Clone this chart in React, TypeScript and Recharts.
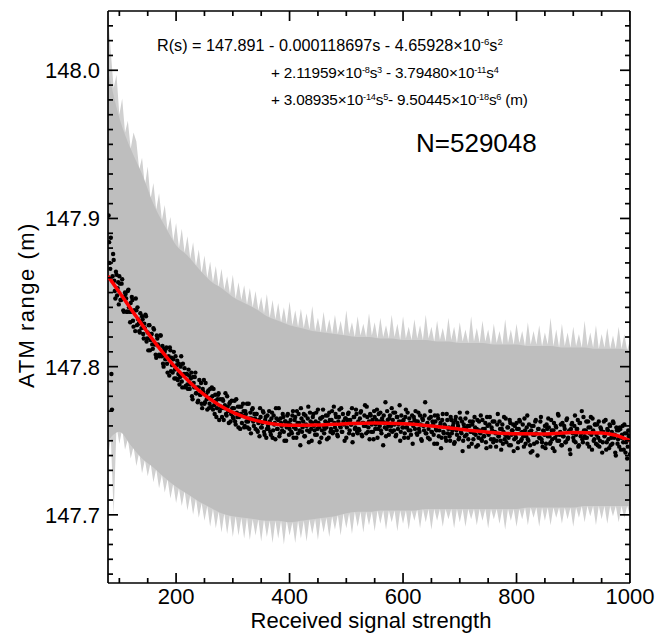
import React from "react";
import { Area, ComposedChart, Line, Scatter, XAxis, YAxis } from "recharts";

const FONT = '"Liberation Sans", Arial, Helvetica, sans-serif';
const GRAY = "#bebebe";
const GRAY_EDGE = "#d0d0d0";
const RED = "#ff0000";

// Spread band per signal-strength bin (needle tips): s = 80, 85, ..., 1000
const BAND_START = 80;
const BAND_STEP = 5;
const BAND_HIGH = [
  148.038, 148.012, 147.988, 147.997, 147.970, 147.981, 147.958, 147.966, 147.947, 147.958,
  147.952, 147.933, 147.941, 147.922, 147.935, 147.913, 147.924, 147.906, 147.917, 147.899,
  147.909, 147.892, 147.901, 147.885, 147.897, 147.880, 147.893, 147.877, 147.888, 147.873,
  147.884, 147.868, 147.879, 147.863, 147.875, 147.860, 147.871, 147.857, 147.868, 147.854,
  147.866, 147.852, 147.861, 147.849, 147.862, 147.846, 147.857, 147.845, 147.855, 147.842,
  147.853, 147.840, 147.851, 147.838, 147.847, 147.836, 147.849, 147.833, 147.845, 147.832,
  147.843, 147.830, 147.840, 147.829, 147.844, 147.828, 147.838, 147.827, 147.839, 147.826,
  147.836, 147.825, 147.841, 147.824, 147.833, 147.823, 147.837, 147.823, 147.832, 147.822,
  147.835, 147.822, 147.831, 147.821, 147.838, 147.822, 147.830, 147.820, 147.834, 147.821,
  147.829, 147.820, 147.836, 147.821, 147.830, 147.819, 147.833, 147.820, 147.828, 147.819,
  147.835, 147.820, 147.829, 147.818, 147.834, 147.819, 147.827, 147.818, 147.832, 147.819,
  147.828, 147.818, 147.835, 147.819, 147.827, 147.817, 147.831, 147.818, 147.826, 147.817,
  147.833, 147.818, 147.827, 147.816, 147.830, 147.817, 147.825, 147.816, 147.834, 147.817,
  147.826, 147.816, 147.831, 147.817, 147.825, 147.815, 147.829, 147.816, 147.824, 147.815,
  147.832, 147.816, 147.825, 147.815, 147.829, 147.816, 147.824, 147.814, 147.830, 147.815,
  147.824, 147.815, 147.828, 147.814, 147.823, 147.815, 147.833, 147.814, 147.825, 147.813,
  147.829, 147.814, 147.823, 147.813, 147.827, 147.814, 147.822, 147.813, 147.831, 147.814,
  147.823, 147.813, 147.828, 147.812, 147.822, 147.813, 147.826, 147.812, 147.821, 147.812,
  147.827, 147.812, 147.822, 147.811, 147.818,
];
const BAND_LOW = [
  147.738, 147.752, 147.700, 147.760, 147.748, 147.758, 147.744, 147.751, 147.738, 147.746,
  147.733, 147.742, 147.728, 147.737, 147.726, 147.735, 147.722, 147.731, 147.718, 147.727,
  147.715, 147.724, 147.711, 147.721, 147.708, 147.718, 147.706, 147.716, 147.703, 147.713,
  147.700, 147.711, 147.698, 147.708, 147.696, 147.706, 147.692, 147.704, 147.691, 147.702,
  147.688, 147.701, 147.687, 147.700, 147.685, 147.699, 147.686, 147.698, 147.684, 147.698,
  147.683, 147.697, 147.686, 147.697, 147.682, 147.697, 147.685, 147.696, 147.681, 147.696,
  147.684, 147.696, 147.680, 147.696, 147.686, 147.695, 147.681, 147.696, 147.684, 147.696,
  147.682, 147.697, 147.687, 147.697, 147.683, 147.698, 147.688, 147.698, 147.685, 147.699,
  147.690, 147.700, 147.686, 147.701, 147.691, 147.701, 147.687, 147.702, 147.692, 147.702,
  147.688, 147.702, 147.693, 147.702, 147.689, 147.703, 147.694, 147.703, 147.690, 147.703,
  147.695, 147.703, 147.689, 147.703, 147.694, 147.703, 147.690, 147.703, 147.696, 147.704,
  147.691, 147.704, 147.695, 147.704, 147.690, 147.704, 147.696, 147.704, 147.692, 147.704,
  147.697, 147.704, 147.691, 147.704, 147.695, 147.704, 147.692, 147.704, 147.697, 147.704,
  147.693, 147.704, 147.696, 147.704, 147.691, 147.704, 147.697, 147.704, 147.694, 147.704,
  147.690, 147.704, 147.696, 147.704, 147.692, 147.704, 147.697, 147.705, 147.693, 147.705,
  147.698, 147.705, 147.692, 147.705, 147.696, 147.705, 147.693, 147.705, 147.698, 147.705,
  147.694, 147.705, 147.697, 147.705, 147.692, 147.705, 147.698, 147.706, 147.695, 147.706,
  147.699, 147.706, 147.693, 147.706, 147.697, 147.706, 147.694, 147.706, 147.699, 147.706,
  147.695, 147.706, 147.698, 147.706, 147.700,
];

// Solid core of the band: s = 80, 100, ..., 1000
const CORE_START = 80;
const CORE_STEP = 20;
const CORE_HIGH = [
  148.000, 147.968, 147.947, 147.930, 147.910, 147.895, 147.882, 147.875, 147.866, 147.858,
  147.853, 147.847, 147.843, 147.839, 147.834, 147.831, 147.828, 147.826, 147.824, 147.823,
  147.822, 147.821, 147.820, 147.820, 147.819, 147.819, 147.818, 147.818, 147.818, 147.817,
  147.817, 147.816, 147.816, 147.816, 147.815, 147.815, 147.815, 147.814, 147.814, 147.814,
  147.813, 147.813, 147.813, 147.812, 147.812, 147.812, 147.811,
];
const CORE_LOW = [
  147.750, 147.756, 147.747, 147.738, 147.732, 147.725, 147.719, 147.714, 147.709, 147.705,
  147.701, 147.699, 147.698, 147.697, 147.696, 147.696, 147.695, 147.696, 147.697, 147.698,
  147.699, 147.701, 147.702, 147.702, 147.703, 147.703, 147.703, 147.703, 147.704, 147.704,
  147.704, 147.704, 147.704, 147.704, 147.704, 147.704, 147.704, 147.705, 147.705, 147.705,
  147.705, 147.705, 147.706, 147.706, 147.706, 147.706, 147.706,
];

// Mean ATM range per signal-strength bin: odd s = 81..999, even s = 82..1000
const DOT_STEP = 2;
const DOT_ODD_START = 81;
const DOT_ODD = [
  147.902, 147.870, 147.887, 147.771, 147.876, 147.858, 147.846, 147.862, 147.853, 147.842,
  147.856, 147.845, 147.859, 147.838, 147.847, 147.849, 147.837, 147.851, 147.840, 147.830,
  147.837, 147.845, 147.827, 147.838, 147.846, 147.828, 147.832, 147.824, 147.836, 147.826,
  147.832, 147.819, 147.826, 147.834, 147.819, 147.811, 147.828, 147.818, 147.822, 147.812,
  147.825, 147.815, 147.806, 147.819, 147.814, 147.807, 147.821, 147.807, 147.802, 147.812,
  147.805, 147.813, 147.796, 147.807, 147.813, 147.797, 147.801, 147.805, 147.792, 147.807,
  147.801, 147.791, 147.802, 147.793, 147.807, 147.786, 147.794, 147.799, 147.787, 147.795,
  147.785, 147.794, 147.788, 147.796, 147.778, 147.789, 147.793, 147.782, 147.786, 147.777,
  147.791, 147.781, 147.775, 147.785, 147.791, 147.776, 147.781, 147.771, 147.784, 147.775,
  147.779, 147.786, 147.771, 147.774, 147.781, 147.766, 147.778, 147.782, 147.770, 147.773,
  147.766, 147.777, 147.772, 147.782, 147.767, 147.773, 147.762, 147.776, 147.768, 147.772,
  147.765, 147.777, 147.761, 147.769, 147.773, 147.766, 147.758, 147.773, 147.767, 147.770,
  147.760, 147.768, 147.775, 147.763, 147.758, 147.769, 147.765, 147.772, 147.760, 147.765,
  147.768, 147.757, 147.762, 147.753, 147.766, 147.759, 147.770, 147.756, 147.764, 147.752,
  147.767, 147.758, 147.763, 147.754, 147.769, 147.757, 147.761, 147.751, 147.765, 147.758,
  147.772, 147.755, 147.762, 147.757, 147.766, 147.750, 147.763, 147.759, 147.768, 147.754,
  147.761, 147.756, 147.767, 147.752, 147.764, 147.758, 147.770, 147.755, 147.762, 147.747,
  147.765, 147.759, 147.768, 147.753, 147.761, 147.757, 147.773, 147.756, 147.763, 147.750,
  147.766, 147.760, 147.754, 147.769, 147.758, 147.762, 147.749, 147.765, 147.757, 147.771,
  147.755, 147.763, 147.759, 147.767, 147.752, 147.764, 147.758, 147.770, 147.756, 147.762,
  147.768, 147.757, 147.753, 147.766, 147.760, 147.772, 147.756, 147.763, 147.750, 147.765,
  147.759, 147.768, 147.755, 147.764, 147.761, 147.749, 147.766, 147.758, 147.771, 147.756,
  147.763, 147.757, 147.769, 147.754, 147.762, 147.760, 147.774, 147.755, 147.766, 147.759,
  147.751, 147.767, 147.761, 147.756, 147.770, 147.758, 147.764, 147.752, 147.768, 147.760,
  147.757, 147.765, 147.747, 147.762, 147.776, 147.758, 147.764, 147.754, 147.767, 147.760,
  147.756, 147.769, 147.761, 147.753, 147.766, 147.758, 147.763, 147.750, 147.767, 147.759,
  147.764, 147.755, 147.771, 147.759, 147.752, 147.765, 147.757, 147.762, 147.748, 147.766,
  147.758, 147.763, 147.754, 147.769, 147.756, 147.761, 147.750, 147.764, 147.757, 147.776,
  147.755, 147.762, 147.758, 147.751, 147.766, 147.756, 147.761, 147.748, 147.763, 147.757,
  147.767, 147.753, 147.760, 147.745, 147.764, 147.756, 147.761, 147.752, 147.768, 147.755,
  147.759, 147.750, 147.764, 147.757, 147.762, 147.749, 147.766, 147.754, 147.760, 147.752,
  147.765, 147.755, 147.743, 147.761, 147.753, 147.758, 147.769, 147.751, 147.760, 147.756,
  147.748, 147.763, 147.755, 147.759, 147.746, 147.764, 147.752, 147.757, 147.767, 147.750,
  147.758, 147.753, 147.762, 147.745, 147.760, 147.754, 147.766, 147.751, 147.757, 147.749,
  147.763, 147.755, 147.750, 147.768, 147.753, 147.758, 147.744, 147.761, 147.756, 147.751,
  147.765, 147.753, 147.759, 147.747, 147.762, 147.754, 147.757, 147.743, 147.760, 147.752,
  147.758, 147.749, 147.764, 147.755, 147.751, 147.761, 147.746, 147.757, 147.753, 147.767,
  147.750, 147.756, 147.742, 147.760, 147.754, 147.748, 147.763, 147.755, 147.740, 147.758,
  147.752, 147.766, 147.749, 147.757, 147.754, 147.745, 147.761, 147.753, 147.759, 147.748,
  147.764, 147.751, 147.757, 147.743, 147.760, 147.754, 147.768, 147.750, 147.756, 147.747,
  147.762, 147.753, 147.758, 147.749, 147.765, 147.752, 147.757, 147.741, 147.761, 147.755,
  147.750, 147.767, 147.754, 147.758, 147.746, 147.762, 147.753, 147.770, 147.749, 147.757,
  147.752, 147.763, 147.748, 147.759, 147.755, 147.766, 147.744, 147.757, 147.751, 147.761,
  147.754, 147.747, 147.763, 147.750, 147.758, 147.742, 147.756, 147.753, 147.764, 147.749,
  147.757, 147.745, 147.760, 147.752, 147.748, 147.762, 147.754, 147.740, 147.757, 147.751,
  147.746, 147.758, 147.752, 147.760, 147.744, 147.755, 147.749, 147.738, 147.757, 147.753,
];
const DOT_EVEN_START = 82;
const DOT_EVEN = [
  147.884, 147.866, 147.795, 147.861, 147.872, 147.851, 147.864, 147.848, 147.857, 147.861,
  147.845, 147.856, 147.846, 147.837, 147.850, 147.846, 147.837, 147.852, 147.837, 147.843,
  147.847, 147.831, 147.838, 147.824, 147.838, 147.840, 147.829, 147.823, 147.830, 147.834,
  147.822, 147.829, 147.835, 147.817, 147.823, 147.828, 147.811, 147.822, 147.815, 147.826,
  147.815, 147.808, 147.821, 147.815, 147.808, 147.821, 147.808, 147.814, 147.800, 147.810,
  147.812, 147.802, 147.806, 147.794, 147.811, 147.806, 147.796, 147.810, 147.798, 147.792,
  147.804, 147.795, 147.788, 147.800, 147.790, 147.802, 147.795, 147.786, 147.795, 147.788,
  147.798, 147.785, 147.792, 147.780, 147.793, 147.786, 147.796, 147.782, 147.776, 147.786,
  147.781, 147.789, 147.772, 147.783, 147.775, 147.789, 147.778, 147.783, 147.772, 147.785,
  147.773, 147.780, 147.785, 147.768, 147.777, 147.772, 147.781, 147.764, 147.778, 147.772,
  147.778, 147.764, 147.774, 147.768, 147.780, 147.770, 147.775, 147.763, 147.777, 147.766,
  147.772, 147.763, 147.778, 147.766, 147.759, 147.773, 147.768, 147.762, 147.775, 147.759,
  147.770, 147.763, 147.759, 147.775, 147.765, 147.755, 147.771, 147.763, 147.768, 147.758,
  147.768, 147.756, 147.764, 147.772, 147.759, 147.762, 147.769, 147.754, 147.766, 147.758,
  147.760, 147.770, 147.756, 147.765, 147.752, 147.767, 147.762, 147.772, 147.758, 147.764,
  147.753, 147.765, 147.760, 147.768, 147.756, 147.763, 147.750, 147.767, 147.762, 147.758,
  147.764, 147.755, 147.770, 147.759, 147.766, 147.752, 147.762, 147.768, 147.757, 147.772,
  147.756, 147.763, 147.753, 147.767, 147.760, 147.765, 147.749, 147.769, 147.758, 147.762,
  147.768, 147.757, 147.763, 147.754, 147.771, 147.759, 147.765, 147.752, 147.766, 147.760,
  147.758, 147.767, 147.751, 147.762, 147.769, 147.756, 147.764, 147.755, 147.773, 147.759,
  147.766, 147.754, 147.763, 147.771, 147.759, 147.756, 147.768, 147.761, 147.765, 147.752,
  147.764, 147.769, 147.757, 147.761, 147.772, 147.754, 147.766, 147.759, 147.768, 147.755,
  147.758, 147.765, 147.770, 147.753, 147.762, 147.767, 147.760, 147.773, 147.756, 147.763,
  147.768, 147.756, 147.764, 147.751, 147.766, 147.761, 147.771, 147.758, 147.763, 147.769,
  147.755, 147.763, 147.767, 147.759, 147.753, 147.770, 147.760, 147.765, 147.757, 147.772,
  147.764, 147.757, 147.769, 147.754, 147.766, 147.761, 147.774, 147.756, 147.763, 147.759,
  147.752, 147.766, 147.759, 147.769, 147.757, 147.762, 147.754, 147.767, 147.760, 147.764,
  147.770, 147.755, 147.763, 147.758, 147.767, 147.751, 147.765, 147.760, 147.767, 147.755,
  147.761, 147.752, 147.765, 147.770, 147.756, 147.763, 147.754, 147.767, 147.758, 147.748,
  147.765, 147.757, 147.762, 147.752, 147.768, 147.755, 147.760, 147.750, 147.764, 147.758,
  147.753, 147.766, 147.755, 147.760, 147.748, 147.764, 147.757, 147.762, 147.751, 147.769,
  147.756, 147.763, 147.750, 147.759, 147.765, 147.754, 147.760, 147.746, 147.763, 147.756,
  147.761, 147.751, 147.766, 147.754, 147.758, 147.747, 147.763, 147.755, 147.751, 147.764,
  147.753, 147.758, 147.749, 147.766, 147.755, 147.761, 147.746, 147.759, 147.763, 147.751,
  147.756, 147.746, 147.761, 147.753, 147.763, 147.750, 147.758, 147.748, 147.766, 147.754,
  147.749, 147.759, 147.752, 147.764, 147.747, 147.757, 147.761, 147.751, 147.754, 147.762,
  147.745, 147.758, 147.763, 147.750, 147.756, 147.753, 147.765, 147.748, 147.759, 147.751,
  147.761, 147.747, 147.757, 147.743, 147.760, 147.754, 147.764, 147.749, 147.758, 147.752,
  147.763, 147.751, 147.746, 147.756, 147.760, 147.748, 147.758, 147.765, 147.753, 147.749,
  147.757, 147.745, 147.762, 147.752, 147.759, 147.750, 147.767, 147.754, 147.761, 147.747,
  147.753, 147.760, 147.749, 147.764, 147.751, 147.756, 147.744, 147.758, 147.762, 147.752,
  147.760, 147.749, 147.758, 147.764, 147.747, 147.762, 147.755, 147.751, 147.766, 147.753,
  147.757, 147.752, 147.763, 147.746, 147.759, 147.754, 147.765, 147.750, 147.761, 147.748,
  147.761, 147.752, 147.746, 147.759, 147.756, 147.749, 147.763, 147.754, 147.744, 147.758,
  147.751, 147.761, 147.747, 147.756, 147.763, 147.752, 147.742, 147.759, 147.748, 147.757,
  147.759, 147.744, 147.754, 147.749, 147.761, 147.742, 147.755, 147.746, 147.753, 147.741,
];

// 6th-order polynomial fit
const FIT_S = [80, 100, 125, 150, 175, 200, 225, 250, 275, 300, 350, 400, 450, 500, 550, 600, 650, 700, 750, 800, 850, 900, 950, 975, 1000];
const FIT_R = [
  147.8611, 147.8502, 147.8364, 147.8229, 147.8103, 147.7990, 147.7892, 147.7809, 147.7743, 147.7691,
  147.7628, 147.7605, 147.7606, 147.7615, 147.7620, 147.7615, 147.7600, 147.7578, 147.7558, 147.7547,
  147.7546, 147.7555, 147.7553, 147.7537, 147.7500,
];

const X_DOMAIN = [80, 1000];
const Y_DOMAIN = [147.654, 148.04];
const X_TICKS = [100, 150, 200, 250, 300, 350, 400, 450, 500, 550, 600, 650, 700, 750, 800, 850, 900, 950, 1000];
const X_LABELS = [200, 400, 600, 800, 1000];
const Y_TICKS = [
  147.66, 147.67, 147.68, 147.69, 147.7, 147.71, 147.72, 147.73, 147.74, 147.75,
  147.76, 147.77, 147.78, 147.79, 147.8, 147.81, 147.82, 147.83, 147.84, 147.85,
  147.86, 147.87, 147.88, 147.89, 147.9, 147.91, 147.92, 147.93, 147.94, 147.95,
  147.96, 147.97, 147.98, 147.99, 148.0, 148.01, 148.02, 148.03,
];
const Y_LABELS = [147.7, 147.8, 147.9, 148.0];

const bandRows = BAND_HIGH.map((hi, i) => ({ s: BAND_START + i * BAND_STEP, band: [BAND_LOW[i], hi] }));
const coreRows = CORE_HIGH.map((hi, i) => ({ s: CORE_START + i * CORE_STEP, core: [CORE_LOW[i], hi] }));
const dotRows = [
  ...DOT_ODD.map((r, i) => ({ s: DOT_ODD_START + i * DOT_STEP, r })),
  ...DOT_EVEN.map((r, i) => ({ s: DOT_EVEN_START + i * DOT_STEP, r })),
];
const fitRows = FIT_S.map((s, i) => ({ s, fit: FIT_R[i] }));

// inward tick marks on all four sides, placed through the chart scales
const tickRows = [
  ...X_TICKS.map((v) => ({ s: v, y: Y_DOMAIN[0], side: "bottom", major: X_LABELS.includes(v) })),
  ...X_TICKS.map((v) => ({ s: v, y: Y_DOMAIN[1], side: "top", major: X_LABELS.includes(v) })),
  ...Y_TICKS.map((v) => ({ s: X_DOMAIN[0], y: v, side: "left", major: Y_LABELS.includes(v) })),
  ...Y_TICKS.map((v) => ({ s: X_DOMAIN[1], y: v, side: "right", major: Y_LABELS.includes(v) })),
];

const AXIS_W = 1.7;

function TickMark({ cx, cy, payload }: any) {
  const len = payload.major ? 10 : 5;
  const dx = payload.side === "left" ? len : payload.side === "right" ? -len : 0;
  const dy = payload.side === "bottom" ? -len : payload.side === "top" ? len : 0;
  return <line x1={cx} y1={cy} x2={cx + dx} y2={cy + dy} stroke="#000" strokeWidth={AXIS_W} />;
}

function BottomLabel({ x, y, payload }: any) {
  return (
    <text x={x} y={y + 21} textAnchor="middle" fontSize={22} fontFamily={FONT} fill="#000">
      {payload.value}
    </text>
  );
}
function LeftLabel({ x, y, payload }: any) {
  return (
    <text x={x - 8} y={y} dy="0.36em" textAnchor="end" fontSize={22} fontFamily={FONT} fill="#000">
      {payload.value.toFixed(1)}
    </text>
  );
}

const sup = { fontSize: "0.6em", verticalAlign: "0.6em", lineHeight: 0 } as const;
const noteLine = {
  position: "absolute",
  fontFamily: FONT,
  fontSize: 16.2,
  whiteSpace: "nowrap",
  lineHeight: "20px",
  color: "#000",
} as const;
const noteTight = { ...noteLine, fontSize: 15.3, letterSpacing: -0.2 } as const;

export default function App() {
  return (
    <div style={{ position: "absolute", left: 0, top: 0, width: 668, height: 635, background: "#fff", fontFamily: FONT }}>
      <ComposedChart width={668} height={635} data={bandRows} margin={{ top: 10, right: 37, bottom: 0, left: 0 }}>
        <XAxis
          dataKey="s"
          type="number"
          domain={X_DOMAIN}
          ticks={X_LABELS}
          interval={0}
          height={52}
          tickSize={0}
          tickMargin={0}
          tickLine={false}
          tick={<BottomLabel />}
          axisLine={{ stroke: "#000", strokeWidth: AXIS_W }}
          allowDataOverflow
        />
        <XAxis
          xAxisId="top"
          orientation="top"
          dataKey="s"
          type="number"
          domain={X_DOMAIN}
          height={1}
          tick={false}
          tickLine={false}
          axisLine={{ stroke: "#000", strokeWidth: AXIS_W }}
          allowDataOverflow
        />
        <YAxis
          type="number"
          domain={Y_DOMAIN}
          ticks={Y_LABELS}
          interval={0}
          width={108}
          tickSize={0}
          tickMargin={0}
          tickLine={false}
          tick={<LeftLabel />}
          axisLine={{ stroke: "#000", strokeWidth: AXIS_W }}
          allowDataOverflow
        />
        <YAxis
          yAxisId="right"
          orientation="right"
          type="number"
          domain={Y_DOMAIN}
          width={1}
          tick={false}
          tickLine={false}
          axisLine={{ stroke: "#000", strokeWidth: AXIS_W }}
          allowDataOverflow
        />
        <Area type="linear" dataKey="band" stroke="none" fill={GRAY_EDGE} fillOpacity={1} isAnimationActive={false} />
        <Area
          data={coreRows}
          type="monotone"
          dataKey="core"
          stroke="none"
          fill={GRAY}
          fillOpacity={1}
          isAnimationActive={false}
        />
        <Scatter
          data={dotRows}
          dataKey="r"
          fill="#000"
          shape={(p: any) => <circle cx={p.cx} cy={p.cy} r={2.2} fill="#000" />}
          isAnimationActive={false}
        />
        <Line
          data={fitRows}
          xAxisId="top"
          yAxisId="right"
          dataKey="fit"
          type="monotone"
          stroke={RED}
          strokeWidth={3.5}
          dot={false}
          activeDot={false}
          zIndex={650}
          isAnimationActive={false}
        />
        <Scatter
          data={tickRows}
          dataKey="y"
          shape={(p: any) => <TickMark {...p} />}
          zIndex={700}
          isAnimationActive={false}
        />
      </ComposedChart>

      <div style={{ ...noteLine, left: 157, top: 35 }}>
        R(s) = 147.891 - 0.000118697s - 4.65928×10<sup style={sup}>-6</sup>s<sup style={sup}>2</sup>
      </div>
      <div style={{ ...noteTight, left: 271, top: 63 }}>
        + 2.11959×10<sup style={sup}>-8</sup>s<sup style={sup}>3</sup> - 3.79480×10<sup style={sup}>-11</sup>s<sup style={sup}>4</sup>
      </div>
      <div style={{ ...noteTight, left: 271, top: 90 }}>
        + 3.08935×10<sup style={sup}>-14</sup>s<sup style={sup}>5</sup>- 9.50445×10<sup style={sup}>-18</sup>s<sup style={sup}>6</sup> (m)
      </div>
      <div style={{ ...noteLine, left: 416, top: 128, fontSize: 26, lineHeight: "30px" }}>N=529048</div>

      <div
        style={{
          position: "absolute",
          left: 371,
          top: 621,
          transform: "translate(-50%, -50%)",
          fontSize: 22,
          whiteSpace: "nowrap",
        }}
      >
        Received signal strength
      </div>
      <div
        style={{
          position: "absolute",
          left: 27,
          top: 305,
          transform: "translate(-50%, -50%) rotate(-90deg)",
          fontSize: 22,
          letterSpacing: 1.5,
          whiteSpace: "nowrap",
        }}
      >
        ATM range (m)
      </div>
    </div>
  );
}
